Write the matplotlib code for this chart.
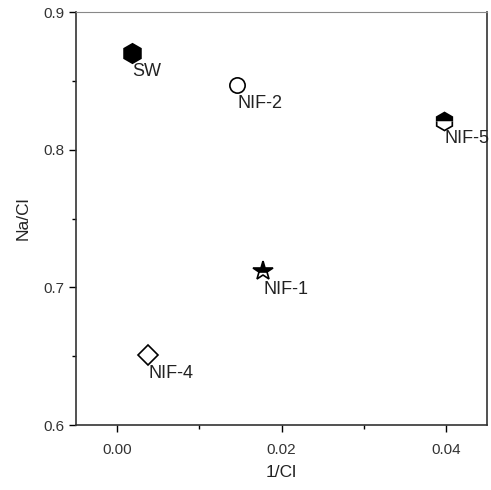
import matplotlib.pyplot as plt

plt.rcParams['font.family'] = ['Liberation Sans', 'DejaVu Sans']

# Sample points: 1/Cl vs Na/Cl
labels = ['SW', 'NIF-2', 'NIF-5', 'NIF-1', 'NIF-4']
inv_cl = [0.0018, 0.0146, 0.0398, 0.0178, 0.0038]
na_cl = [0.870, 0.847, 0.821, 0.712, 0.651]
markers = ['h', 'o', 'h', '*', 'D']
fills = ['full', 'none', 'top', 'top', 'none']
sizes = [14, 11, 13, 15, 10.5]

fig = plt.figure(figsize=(4.91, 4.90), dpi=100)
ax = fig.add_axes([76 / 491, 65 / 490, 411 / 491, 413 / 490])

for x, y, m, f, s, lab in zip(inv_cl, na_cl, markers, fills, sizes, labels):
    ax.plot(x, y, marker=m, fillstyle=f, markersize=s, color='black',
            markerfacecoloralt='white', markeredgewidth=1.2, linestyle='none')
    ax.annotate(lab, xy=(x, y), xytext=(0, -7), textcoords='offset points',
                ha='left', va='top', fontsize=13, color='#222222')

ax.set_xlim(-0.005, 0.045)
ax.set_ylim(0.6, 0.9)
ax.set_xticks([0.00, 0.02, 0.04])
ax.set_xticklabels(['0.00', '0.02', '0.04'])
ax.set_xticks([0.01, 0.03], minor=True)
ax.set_yticks([0.6, 0.7, 0.8, 0.9])
ax.set_yticks([0.65, 0.75, 0.85], minor=True)
ax.tick_params(which='major', direction='out', length=5, width=1, labelsize=11,
               labelcolor='#333333', top=False, right=False)
ax.tick_params(axis='x', which='major', pad=8)
ax.tick_params(which='minor', direction='out', length=3, width=1,
               top=False, right=False)

ax.set_xlabel('1/Cl', fontsize=12.5, color='#222222', labelpad=6)
ax.set_ylabel('Na/Cl', fontsize=12.5, color='#222222', labelpad=9)

for side in ['left', 'bottom', 'right']:
    ax.spines[side].set_linewidth(1.2)
    ax.spines[side].set_color('#333333')
ax.spines['top'].set_linewidth(0.8)
ax.spines['top'].set_color('#888888')

fig.savefig('out.png', dpi=100)
